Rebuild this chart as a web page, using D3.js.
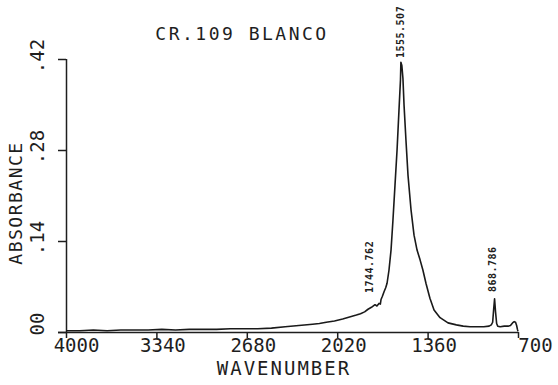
<!DOCTYPE html>
<html><head><meta charset="utf-8">
<script src="https://cdn.jsdelivr.net/npm/d3@7"></script>
<style>
body{margin:0;background:#fff;}
text{font-family:"DejaVu Sans Mono",monospace;fill:#1e1e1e;}
</style></head>
<body><svg id="c" width="558" height="385"></svg>
<script>
const title = "CR.109 BLANCO";
const xLabel = "WAVENUMBER";
const yLabel = "ABSORBANCE";
const xTicks = [4000, 3340, 2680, 2020, 1360, 700];
const xTickLabels = ["4000", "3340", "2680", "2020", "1360", "700"];
const yTicks = [0, 0.14, 0.28, 0.42];
const yTickLabels = ["00", ".14", ".28", ".42"];
const wavenumber = [4000, 3900, 3800, 3700, 3600, 3500, 3400, 3300, 3200, 3100, 3000, 2900, 2800, 2700, 2600, 2500, 2400, 2300, 2200, 2150, 2100, 2040, 1980, 1930, 1880, 1850, 1820, 1795, 1770, 1744, 1730, 1715, 1705, 1700, 1690, 1678, 1666, 1656, 1642, 1627, 1613, 1598, 1583, 1569, 1558, 1555, 1548, 1540, 1532, 1518, 1503, 1481, 1459, 1437, 1415, 1394, 1372, 1343, 1313, 1269, 1211, 1150, 1100, 1050, 1000, 950, 911, 895, 885, 878, 871, 864, 856, 848, 830, 800, 773, 755, 740, 728, 718, 710, 704, 700];
const absorbance = [0.002, 0.002, 0.003, 0.002, 0.003, 0.003, 0.003, 0.004, 0.003, 0.004, 0.004, 0.004, 0.005, 0.005, 0.005, 0.006, 0.008, 0.010, 0.012, 0.013, 0.015, 0.017, 0.020, 0.023, 0.026, 0.028, 0.031, 0.035, 0.038, 0.042, 0.040, 0.044, 0.043, 0.050, 0.055, 0.062, 0.068, 0.075, 0.095, 0.126, 0.172, 0.226, 0.280, 0.341, 0.388, 0.415, 0.410, 0.390, 0.349, 0.295, 0.241, 0.188, 0.149, 0.126, 0.111, 0.095, 0.075, 0.052, 0.034, 0.022, 0.014, 0.011, 0.009, 0.008, 0.008, 0.008, 0.009, 0.011, 0.015, 0.034, 0.051, 0.031, 0.013, 0.009, 0.008, 0.009, 0.009, 0.010, 0.014, 0.016, 0.015, 0.010, 0.004, 0.001];
const peakWn = [1555, 1744, 868];
const peakLabels = ["1555.507", "1744.762", "868.786"];

const svg = d3.select("#c");
const x = d3.scaleLinear().domain([4000, 700]).range([66, 518]);
const y = d3.scaleLinear().domain([0, 0.42]).range([332, 59]);

// x axis
const gx = svg.append("g").attr("transform", "translate(0,332)")
  .call(d3.axisBottom(x).tickValues(xTicks).tickSize(6).tickSizeOuter(0)
    .tickFormat((d, i) => xTickLabels[i]));
gx.select(".domain").attr("d", `M${x(4000) - 8},0.5H${x(700)}`).attr("stroke", "#1e1e1e").attr("stroke-width", 1.5);
gx.selectAll(".tick line").attr("stroke", "#1e1e1e").attr("stroke-width", 1.5);
gx.selectAll(".tick text").attr("font-size", 19).attr("font-family", "DejaVu Sans Mono")
  .attr("fill", "#1e1e1e").attr("y", 7).attr("dy", "0.71em")
  .attr("dx", (d, i) => i === 0 ? 10 : (i === xTicks.length - 1 ? 17 : 6));

// y axis
const gy = svg.append("g").attr("transform", "translate(66,0)")
  .call(d3.axisLeft(y).tickValues(yTicks).tickSize(8).tickSizeOuter(0).tickFormat(""));
gy.select(".domain").attr("d", `M0.5,${y(0)}V${y(0.42)}`).attr("stroke", "#1e1e1e").attr("stroke-width", 1.5);
gy.selectAll(".tick line").attr("stroke", "#1e1e1e").attr("stroke-width", 1.5);

yTicks.forEach((v, i) => {
  const yy = y(v) - (i === 0 ? 8 : 3);
  svg.append("text").attr("transform", `translate(44,${yy}) rotate(-90)`)
    .attr("text-anchor", "middle").attr("font-size", 19).text(yTickLabels[i]);
});

svg.append("text").attr("transform", `translate(22,203) rotate(-90)`)
  .attr("text-anchor", "middle").attr("font-size", 18).attr("letter-spacing", 1.5).text(yLabel);
svg.append("text").attr("x", 284).attr("y", 375).attr("text-anchor", "middle")
  .attr("font-size", 19).attr("letter-spacing", 2).text(xLabel);
svg.append("text").attr("x", 242).attr("y", 40).attr("text-anchor", "middle")
  .attr("font-size", 18).attr("letter-spacing", 2.5).text(title);

// spectrum
const pts = wavenumber.map((w, i) => [w, absorbance[i]]);
svg.append("path").datum(pts)
  .attr("fill", "none").attr("stroke", "#1a1a1a").attr("stroke-width", 1.6)
  .attr("stroke-linejoin", "round")
  .attr("d", d3.line().x(d => x(d[0])).y(d => y(d[1])));

// peak labels
const labelPos = [[-1, 58], [-6, 293], [-3, 292]];
peakWn.forEach((w, i) => {
  svg.append("text").attr("transform", `translate(${x(w) + 4 + labelPos[i][0]},${labelPos[i][1]}) rotate(-90)`)
    .attr("font-size", 10).attr("font-weight", "bold").attr("letter-spacing", 0.5).text(peakLabels[i]);
});
</script></body></html>
